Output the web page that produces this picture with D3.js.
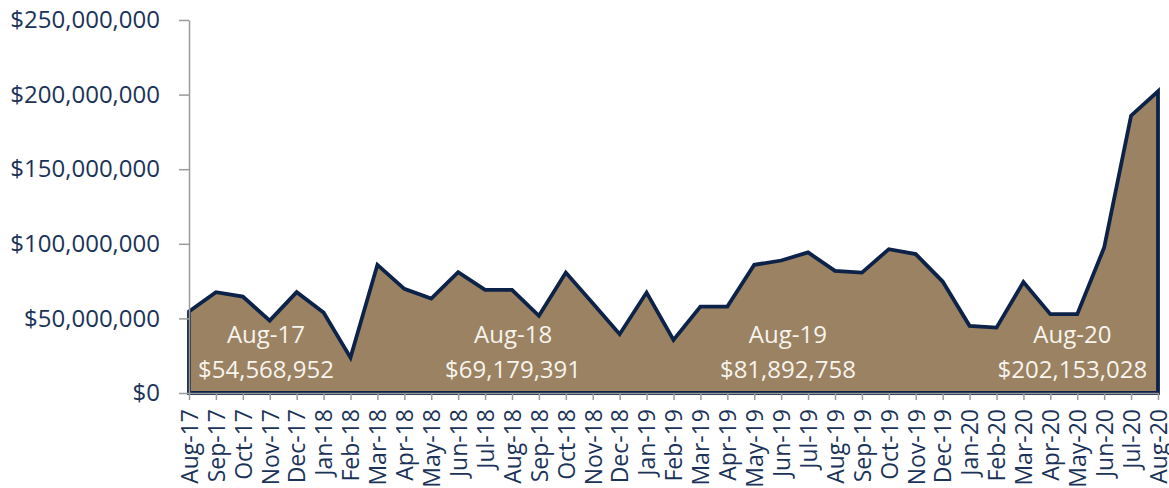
<!DOCTYPE html>
<html>
<head>
<meta charset="utf-8">
<script src="https://cdn.jsdelivr.net/npm/d3@7"></script>
<style>
  body { margin: 0; background: #fff; }
  svg { display: block; font-family: "Open Sans", "Noto Sans", sans-serif; }
  .axis text { fill: #1b3358; font-family: "Open Sans", "Noto Sans", sans-serif; }
  .axis path, .axis line { stroke: #9a9a9a; stroke-width: 1.5; }
</style>
</head>
<body>
<div id="chart"></div>
<script>
// meses (eje x)
const months = [
  "Aug-17", "Sep-17", "Oct-17", "Nov-17", "Dec-17", "Jan-18", "Feb-18", "Mar-18",
  "Apr-18", "May-18", "Jun-18", "Jul-18", "Aug-18", "Sep-18", "Oct-18", "Nov-18",
  "Dec-18", "Jan-19", "Feb-19", "Mar-19", "Apr-19", "May-19", "Jun-19", "Jul-19",
  "Aug-19", "Sep-19", "Oct-19", "Nov-19", "Dec-19", "Jan-20", "Feb-20", "Mar-20",
  "Apr-20", "May-20", "Jun-20", "Jul-20", "Aug-20"
];

// valores mensuales
const values = [
  54568952, 67600000, 64600000, 48500000, 67600000, 53900000, 23700000, 85900000,
  69800000, 63300000, 81000000, 69100000, 69179391, 51700000, 80700000, 60100000,
  39400000, 67300000, 35600000, 57900000, 57900000, 85900000, 88800000, 94200000,
  81892758, 80700000, 96400000, 93100000, 74700000, 45000000, 43800000, 74300000,
  52800000, 52800000, 97500000, 185900000, 202153028
];

// etiquetas anuales
const labelMonths = ["Aug-17", "Aug-18", "Aug-19", "Aug-20"];
const labelValues = [54568952, 69179391, 81892758, 202153028];

const yTicks = [0, 50000000, 100000000, 150000000, 200000000, 250000000];

const margin = { top: 20, right: 11, bottom: 95, left: 189 },
  fullWidth = 1169,
  fullHeight = 488,
  width = fullWidth - margin.left - margin.right,
  height = fullHeight - margin.top - margin.bottom;

const svg = d3
  .select("#chart")
  .append("svg")
  .attr("width", fullWidth)
  .attr("height", fullHeight)
  .append("g")
  .attr("transform", `translate(${margin.left},${margin.top})`);

// Escalas
const x = d3.scalePoint().domain(months).range([0, width]);
const y = d3.scaleLinear().domain([0, 250000000]).range([height, 0]);

const data = months.map((m, i) => ({ month: m, value: values[i] }));

// Area
const area = d3
  .area()
  .x((d) => x(d.month))
  .y0(y(0))
  .y1((d) => y(d.value));

svg
  .append("path")
  .datum(data)
  .attr("d", (d) => area(d) + "Z")
  .attr("fill", "#9a8262")
  .attr("stroke", "#0c2248")
  .attr("stroke-width", 3.8)
  .attr("stroke-linejoin", "miter");

// Ejes
const fmt = d3.format("$,");

svg
  .append("g")
  .attr("class", "axis")
  .call(d3.axisLeft(y).tickValues(yTicks).tickFormat(fmt).tickSize(10).tickPadding(19).tickSizeOuter(0))
  .attr("font-family", null)
  .selectAll("text")
  .style("font-size", "24px");

svg
  .append("g")
  .attr("class", "axis")
  .attr("transform", `translate(0,${height})`)
  .call(d3.axisBottom(x).tickSize(7).tickSizeOuter(0))
  .attr("font-family", null)
  .selectAll("text")
  .attr("transform", "rotate(-90)")
  .attr("text-anchor", "end")
  .attr("x", -16)
  .attr("y", 0)
  .attr("dy", "0.36em")
  .style("font-size", "23px");

// Etiquetas de cada año (posicion en meses desde el inicio)
const labelOffsets = [2.86, 12.04, 22.25, 32.82];

labelMonths.forEach((m, i) => {
  const lx = x(months[0]) + x.step() * labelOffsets[i];
  const g = svg.append("g").attr("fill", "#f7f4ee").attr("text-anchor", "middle").style("font-size", "24px");
  g.append("text").attr("x", lx).attr("y", height - 50).text(m);
  g.append("text").attr("x", lx).attr("y", height - 15).text(fmt(labelValues[i]));
});
</script>
</body>
</html>
